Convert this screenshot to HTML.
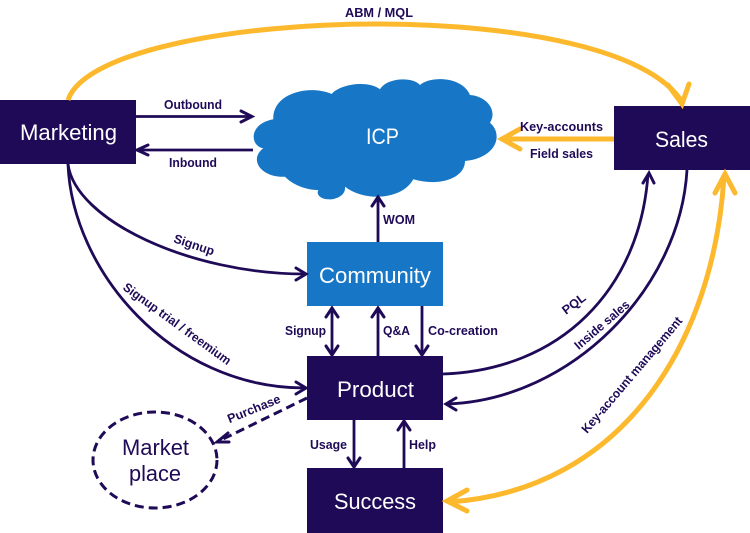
<!DOCTYPE html>
<html>
<head>
<meta charset="utf-8">
<style>
html,body{margin:0;padding:0;background:#fff;width:750px;height:533px;overflow:hidden}
svg{display:block}
text{font-family:"Liberation Sans",sans-serif}
.n{fill:#fff;font-size:22px}
.l{fill:#1f0a57;font-size:12.5px;font-weight:bold}
.c{fill:none;stroke:#1f0a57;stroke-width:2.8}
.g{fill:none;stroke:#fdb92e;stroke-width:5}
.a{fill:none;stroke:#1f0a57;stroke-width:3;stroke-linecap:round;stroke-linejoin:miter}
.ag{fill:none;stroke:#fdb92e;stroke-width:5;stroke-linecap:round;stroke-linejoin:miter}
</style>
</head>
<body>
<svg width="750" height="533" viewBox="0 0 750 533" xmlns="http://www.w3.org/2000/svg">
<!-- Cloud -->
<path fill="#1777c6" d="M263.3 148.3 C250 146 248 124 273.3 119.3 C272 94 308 84 331.7 94 C340 84 368 80 380 89.3 C386 78 412 76 420 85 C430 76 462 76 470 95 C486 96 498 110 490 122.7 C504 135 496 158 465 161 C465 178 440 187 413.3 179.3 C402 200 365 202 345 186.7 C346 196 335 200 328 199.3 C320 199 316 194 318.3 190 C305 190 292 184 285 176.7 C262 178 248 160 263.3 148.3 Z"/>
<!-- Boxes -->
<rect x="0" y="100" width="136" height="64" fill="#1f0a57"/>
<rect x="614" y="106" width="136" height="64" fill="#1f0a57"/>
<rect x="307" y="242" width="136" height="64" fill="#1777c6"/>
<rect x="307" y="356" width="136" height="64" fill="#1f0a57"/>
<rect x="307" y="468" width="136" height="65" fill="#1f0a57"/>
<ellipse cx="155" cy="460" rx="62" ry="48" fill="none" stroke="#1f0a57" stroke-width="3" stroke-dasharray="9 5"/>
<!-- Gold connectors -->
<path class="g" d="M68 100 C85 50 240 24 375 24 C520 24 650 50 682 102"/>
<path class="ag" d="M668 85 L682 104 L689 84"/>
<path class="g" d="M614 139 H503"/>
<path class="ag" d="M520 129 L502 139 L520 149"/>
<path class="g" d="M724 176 C714 340 625 490 449 502"/>
<path class="ag" d="M715 193 L725 174 L735 193"/>
<path class="ag" d="M467 490 L447 501 L467 511"/>
<!-- Navy connectors -->
<path class="c" d="M136 116.5 H251"/>
<path class="a" d="M241 111 L252 116.5 L241 122"/>
<path class="c" d="M253 150 H138"/>
<path class="a" d="M148 145 L137 150 L148 155"/>
<path class="c" d="M68 164 C75 220 190 274 305 274"/>
<path class="a" d="M296 268 L306 274 L296 280"/>
<path class="c" d="M68 164 C72 270 170 388 305 388"/>
<path class="a" d="M296 382 L306 388 L296 394"/>
<path class="c" d="M443 374 C560 370 640 290 648 174"/>
<path class="a" d="M643 183 L649 173 L654 183"/>
<path class="c" d="M687 170 C680 290 570 400 447 404"/>
<path class="a" d="M456 398 L446 404 L456 410"/>
<path class="c" d="M378 242 V198"/>
<path class="a" d="M372 206 L378 197 L384 206"/>
<path class="c" d="M332 309 V354"/>
<path class="a" d="M326 317 L332 308 L338 317"/>
<path class="a" d="M326 346 L332 355 L338 346"/>
<path class="c" d="M378 356 V309"/>
<path class="a" d="M372 317 L378 308 L384 317"/>
<path class="c" d="M422 306 V354"/>
<path class="a" d="M416 346 L422 355 L428 346"/>
<path class="c" d="M354 420 V466"/>
<path class="a" d="M348 458 L354 467 L360 458"/>
<path class="c" d="M404 468 V422"/>
<path class="a" d="M398 430 L404 421 L410 430"/>
<path fill="none" stroke="#1f0a57" stroke-width="3" stroke-dasharray="9 5" d="M307 398 L219 441"/>
<path class="a" d="M228 433 L217 442 L229 442"/>
<!-- Node text -->
<text class="n" x="20" y="140" textLength="97" lengthAdjust="spacingAndGlyphs">Marketing</text>
<text class="n" x="655" y="147" textLength="53" lengthAdjust="spacingAndGlyphs">Sales</text>
<text class="n" x="366" y="144" textLength="33" lengthAdjust="spacingAndGlyphs">ICP</text>
<text class="n" x="319" y="283" textLength="112" lengthAdjust="spacingAndGlyphs">Community</text>
<text class="n" x="337" y="397" textLength="77" lengthAdjust="spacingAndGlyphs">Product</text>
<text class="n" x="334" y="509" textLength="82" lengthAdjust="spacingAndGlyphs">Success</text>
<text x="122" y="455" font-size="22" fill="#1f0a57" textLength="67" lengthAdjust="spacingAndGlyphs">Market</text>
<text x="129" y="481" font-size="22" fill="#1f0a57" textLength="52" lengthAdjust="spacingAndGlyphs">place</text>
<!-- Labels -->
<text class="l" x="345" y="17" textLength="68" lengthAdjust="spacingAndGlyphs">ABM / MQL</text>
<text class="l" x="164" y="109" textLength="58" lengthAdjust="spacingAndGlyphs">Outbound</text>
<text class="l" x="169" y="167" textLength="48" lengthAdjust="spacingAndGlyphs">Inbound</text>
<text class="l" x="520" y="131" textLength="83" lengthAdjust="spacingAndGlyphs">Key-accounts</text>
<text class="l" x="530" y="158" textLength="63" lengthAdjust="spacingAndGlyphs">Field sales</text>
<text class="l" x="383" y="224" textLength="32" lengthAdjust="spacingAndGlyphs">WOM</text>
<text class="l" x="285" y="335" textLength="41" lengthAdjust="spacingAndGlyphs">Signup</text>
<text class="l" x="383" y="335" textLength="27" lengthAdjust="spacingAndGlyphs">Q&amp;A</text>
<text class="l" x="428" y="335" textLength="70" lengthAdjust="spacingAndGlyphs">Co-creation</text>
<text class="l" x="310" y="449" textLength="37" lengthAdjust="spacingAndGlyphs">Usage</text>
<text class="l" x="409" y="449" textLength="27" lengthAdjust="spacingAndGlyphs">Help</text>
<text class="l" transform="translate(194 245) rotate(18.6)" x="-21" y="4" textLength="42" lengthAdjust="spacingAndGlyphs">Signup</text>
<text class="l" transform="translate(177 324) rotate(36)" x="-65" y="4" textLength="130" lengthAdjust="spacingAndGlyphs">Signup trial / freemium</text>
<text class="l" transform="translate(254 409) rotate(-22)" x="-28" y="4" textLength="56" lengthAdjust="spacingAndGlyphs">Purchase</text>
<text class="l" transform="translate(574 304) rotate(-37)" x="-13" y="4" textLength="26" lengthAdjust="spacingAndGlyphs">PQL</text>
<text class="l" transform="translate(602 325) rotate(-40.6)" x="-34" y="4" textLength="68" lengthAdjust="spacingAndGlyphs">Inside sales</text>
<text class="l" transform="translate(632 375) rotate(-49.6)" x="-74" y="4" textLength="148" lengthAdjust="spacingAndGlyphs">Key-account management</text>
</svg>
</body>
</html>
